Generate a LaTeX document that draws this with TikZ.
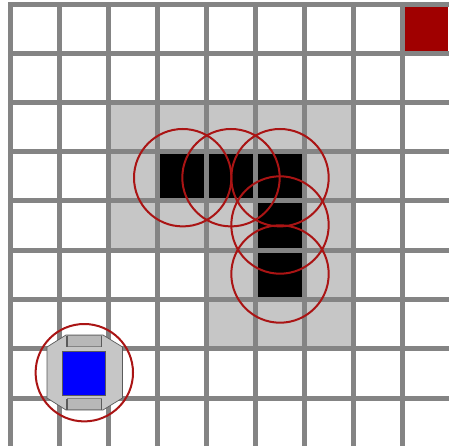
\documentclass[tikz,border=0pt]{standalone}
\definecolor{gridc}{HTML}{848484}
\definecolor{zonec}{HTML}{C6C6C6}
\definecolor{ringc}{HTML}{AA1414}
\definecolor{goalc}{HTML}{A00000}
\definecolor{bluec}{HTML}{0000FF}
\definecolor{wheelc}{HTML}{B8B8B8}
\definecolor{edgec}{HTML}{5A5A5A}
\tikzset{
  ring/.style={draw=ringc,line width=2pt,fill=none},
  gridline/.style={draw=gridc,line width=5pt},
  wheel/.style={fill=wheelc,draw=gridc,line width=0.7pt},
  wheelside/.style={draw=edgec,line width=1.3pt},
  bodyshape/.style={fill=zonec,draw=edgec,line width=0.7pt}
}
\begin{document}
\begin{tikzpicture}[x=1pt,y=-1pt]
\useasboundingbox (0,0) rectangle (449,446);
\clip (0,0) rectangle (449,446);
\fill[white] (0,0) rectangle (449,446);
% inflated obstacle zone
\fill[zonec] (108,103) rectangle (353,250);
\fill[zonec] (206,250) rectangle (353,348);
% obstacles
\fill[black] (157,152) rectangle (304,201);
\fill[black] (255,201) rectangle (304,299);
% goal
\fill[goalc] (402,5) rectangle (448,54);
% grid
\foreach \gx in {10,59,108,157,206,255,304,353,402}
  \draw[gridline] (\gx,3) -- (\gx,446);
\foreach \gy in {5,54,103,152,201,250,299,348,398}
  \draw[gridline] (8,\gy) -- (449,\gy);
% planned path circles
\foreach \cx/\cy in {182.7/177.7,231/177.7,280/177.7,280/225,280/274}
  \draw[ring] (\cx,\cy) circle[radius=48.7];
% robot
\draw[bodyshape] (47,347) -- (66,335) -- (103,335) -- (122.5,347) -- (122.5,398) -- (103,410) -- (66,410) -- (47,398) -- cycle;
\draw[wheel] (67,335.5) rectangle (101.5,346.5);
\draw[wheel] (67,398.5) rectangle (101.5,409.5);
\foreach \wx in {67,101.5} {
  \draw[wheelside] (\wx,335.5) -- (\wx,346.5);
  \draw[wheelside] (\wx,398.5) -- (\wx,409.5);
}
\fill[bluec,draw=edgec,line width=0.7pt] (62.7,351) rectangle (105.7,395);
\draw[ring] (84.3,372.7) circle[radius=48.7];
\end{tikzpicture}
\end{document}
